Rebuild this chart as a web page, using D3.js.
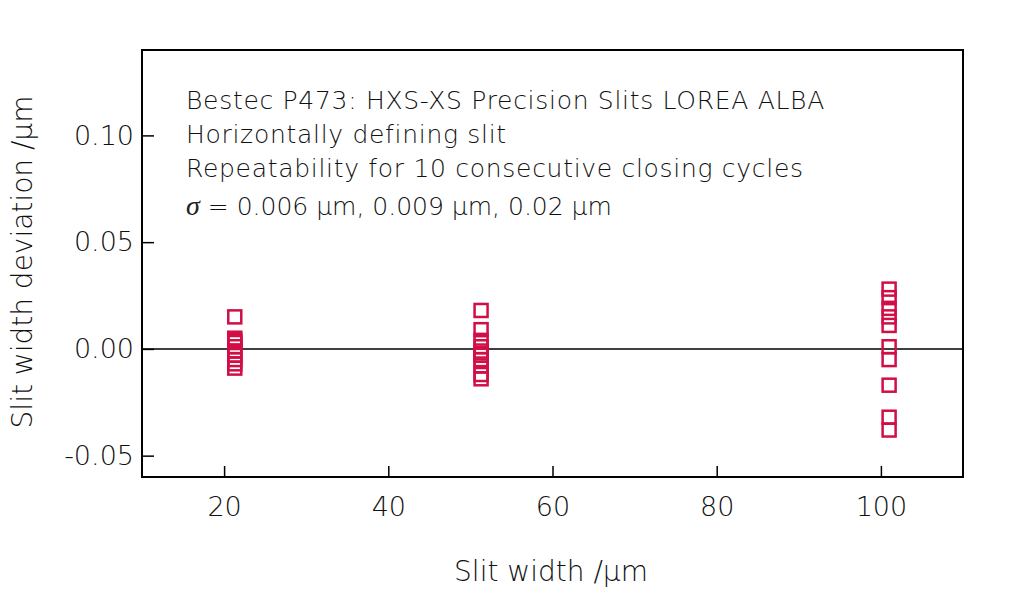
<!DOCTYPE html>
<html><head><meta charset="utf-8">
<script src="https://cdn.jsdelivr.net/npm/d3@7"></script>
<style>body{margin:0;background:#fff}svg{display:block}text{font-family:"DejaVu Sans",sans-serif;font-weight:200;fill:#111}</style>
</head><body><svg id="c" width="1024" height="589"></svg>
<script>
const widths = [21.3, 51.3, 101];
const dev21 = [0.015, 0.005, 0.004, 0.003, 0.001, -0.001, -0.003, -0.005, -0.007, -0.009];
const dev51 = [0.018, 0.009, 0.004, 0.001, -0.001, -0.003, -0.005, -0.008, -0.012, -0.014];
const dev101 = [0.028, 0.024, 0.019, 0.015, 0.011, 0.001, -0.005, -0.017, -0.032, -0.038];
const xTicks = [20, 40, 60, 80, 100];
const yTicks = [-0.05, 0.00, 0.05, 0.10];
const notes = ["Bestec P473: HXS-XS Precision Slits LOREA ALBA", "Horizontally defining slit", "Repeatability for 10 consecutive closing cycles"];

const svg = d3.select("#c");
const L = 142, R = 963, T = 50, B = 477;
const x = d3.scaleLinear().domain([10, 110]).range([L, R]);
const y = d3.scaleLinear().domain([-0.06, 0.14]).range([B, T]);

const series = [dev21, dev51, dev101];
const pts = [];
series.forEach((s, i) => s.forEach(v => pts.push({x: widths[i], y: v})));

svg.append("line").attr("x1", L).attr("x2", R).attr("y1", y(0)).attr("y2", y(0))
  .attr("stroke", "#000").attr("stroke-width", 1.5);

const ax = svg.append("g").attr("transform", `translate(0,${B})`)
  .call(d3.axisBottom(x).tickValues(xTicks).tickSize(-11).tickPadding(20).tickFormat(d3.format("d")));
const ay = svg.append("g").attr("transform", `translate(${L},0)`)
  .call(d3.axisLeft(y).tickValues(yTicks).tickSize(-12).tickPadding(8).tickFormat(d => d.toFixed(2)));
[ax, ay].forEach(g => {
  g.select(".domain").remove();
  g.selectAll(".tick line").attr("stroke", "#000").attr("stroke-width", 1.5);
  g.selectAll(".tick text").style("font-size", "27px").attr("fill", "#111");
});

svg.append("rect").attr("x", L).attr("y", T).attr("width", R - L).attr("height", B - T)
  .attr("fill", "none").attr("stroke", "#000").attr("stroke-width", 2);

const s = 13;
svg.append("g").selectAll("rect").data(pts).join("rect")
  .attr("x", d => x(d.x) - s / 2).attr("y", d => y(d.y) - s / 2)
  .attr("width", s).attr("height", s).attr("fill", "none")
  .attr("stroke", "#d10f46").attr("stroke-width", 2.5);

const ann = svg.append("g").style("font-size", "25px").style("letter-spacing", "0.7px");
notes.forEach((t, i) => ann.append("text").attr("x", 186).attr("y", 109 + i * 34).text(t));
const sig = ann.append("text").attr("x", 186).attr("y", 215).style("letter-spacing", "0px");
sig.append("tspan").style("font-style", "italic").style("font-family", "'Liberation Serif',serif").style("font-weight", "normal").style("font-size", "28px").attr("fill", "#222").text("σ");
sig.append("tspan").text(" = 0.006 µm, 0.009 µm, 0.02 µm");

svg.append("text").attr("x", 551).attr("y", 581).attr("text-anchor", "middle")
  .style("font-size", "28px").text("Slit width /µm");
svg.append("text").attr("transform", "translate(32,262) rotate(-90)").attr("text-anchor", "middle")
  .style("font-size", "28px").text("Slit width deviation /µm");
</script></body></html>
